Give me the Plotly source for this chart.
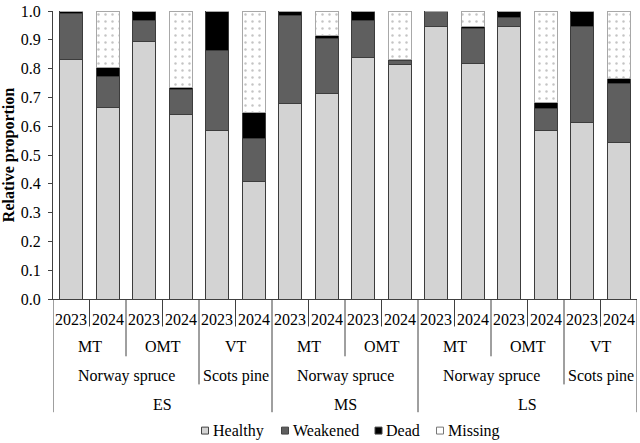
import plotly.graph_objects as go

# ---- data ----
stage = ["ES"] * 6 + ["MS"] * 4 + ["LS"] * 6
species = (["Norway spruce"] * 4 + ["Scots pine"] * 2 +
           ["Norway spruce"] * 4 +
           ["Norway spruce"] * 4 + ["Scots pine"] * 2)
forest = ["MT", "MT", "OMT", "OMT", "VT", "VT",
          "MT", "MT", "OMT", "OMT",
          "MT", "MT", "OMT", "OMT", "VT", "VT"]
year = ["2023", "2024"] * 8

healthy = [0.833, 0.666, 0.895, 0.639, 0.586, 0.407,
           0.680, 0.712, 0.839, 0.813,
           0.947, 0.819, 0.947, 0.586, 0.612, 0.543]
weakened = [0.157, 0.108, 0.072, 0.088, 0.276, 0.149,
            0.304, 0.193, 0.127, 0.014,
            0.053, 0.121, 0.031, 0.077, 0.334, 0.205]
dead = [0.010, 0.031, 0.033, 0.009, 0.138, 0.092,
        0.016, 0.010, 0.034, 0.004,
        0.000, 0.007, 0.022, 0.018, 0.054, 0.018]
missing = [0.000, 0.195, 0.000, 0.264, 0.000, 0.352,
           0.000, 0.085, 0.000, 0.169,
           0.000, 0.053, 0.000, 0.319, 0.000, 0.234]

series_names = ["Healthy", "Weakened", "Dead", "Missing"]
yticks = [round(i * 0.1, 1) for i in range(11)]

# ---- styling ----
FONT = '"Liberation Serif", "Times New Roman", Times, serif'
W, H = 640, 443
ML, MR, MT_, MB = 53, 3, 9, 144
plot_h = H - MT_ - MB
plot_w = W - ML - MR


def py(pix):
    """pixel y (from top) -> paper y"""
    return (H - MB - pix) / plot_h


def px(pix):
    """pixel x (from left) -> paper x"""
    return (pix - ML) / plot_w


x = list(range(len(year)))
fig = go.Figure()

fills = ["#d3d3d3", "#5f5f5f", "#000000", "#ffffff"]
edges = ["#3c3c3c", "#3c3c3c", "#3c3c3c", "#a8a8a8"]
for name, vals, fc, ec in zip(series_names, [healthy, weakened, dead, missing], fills, edges):
    marker = dict(color=fc, line=dict(color=ec, width=1))
    if name == "Missing":
        marker["pattern"] = dict(shape=".", fgcolor="#8a8a8a", bgcolor="#ffffff",
                                 size=7, solidity=0.1)
    fig.add_trace(go.Bar(x=x, y=vals, name=name, marker=marker, showlegend=False))

# ---- hierarchical category axis ----
levels = [year, forest, species, stage]
depth_pix = [326.7, 356.7, 385.0, 413.0]
label_pix = [319.3, 347.3, 376.7, 405.0]
line_col = "#404040"

shapes = []
annotations = []
n = len(x)
for b in range(-1, n):
    if b == -1 or b == n - 1:
        lvl = 3
    else:
        lvl = 0
        for L in range(3, -1, -1):
            if any(levels[k][b] != levels[k][b + 1] for k in range(L, 4)):
                lvl = L
                break
    shapes.append(dict(type="line", xref="x", yref="paper",
                       x0=b + 0.5, x1=b + 0.5, y0=0, y1=py(depth_pix[lvl]),
                       line=dict(color=line_col, width=1)))

for L in range(4):
    start = 0
    for i in range(1, n + 1):
        if i == n or any(levels[k][i] != levels[k][start] for k in range(L, 4)):
            annotations.append(dict(x=(start + i - 1) / 2, y=py(label_pix[L]),
                                    xref="x", yref="paper", text=levels[L][start],
                                    showarrow=False, xanchor="center", yanchor="middle",
                                    font=dict(family=FONT, size=16, color="#000")))
            start = i

# ---- legend (compact, like the reference) ----
leg_box_x = [201.5, 281.5, 375.0, 436.5]
leg_y = 431.5
box = 7
for name, fc, ec, bx in zip(series_names, fills, ["#444", "#444", "#444", "#777"], leg_box_x):
    shapes.append(dict(type="rect", xref="paper", yref="paper",
                       x0=px(bx), x1=px(bx + box), y0=py(leg_y + box / 2), y1=py(leg_y - box / 2),
                       fillcolor=fc, line=dict(color=ec, width=1)))
    annotations.append(dict(x=px(bx + box + 2), y=py(leg_y), xref="paper", yref="paper",
                            text=name, showarrow=False, xanchor="left", yanchor="middle",
                            font=dict(family=FONT, size=16, color="#000")))

fig.update_layout(
    width=W, height=H,
    margin=dict(l=ML, r=MR, t=MT_, b=MB),
    barmode="stack", bargap=0.37,
    plot_bgcolor="white", paper_bgcolor="white",
    font=dict(family=FONT, size=16, color="#000"),
    showlegend=False,
    shapes=shapes, annotations=annotations,
)
fig.update_xaxes(range=[-0.5, n - 0.5], showticklabels=False, showgrid=False,
                 zeroline=False, showline=True, linecolor=line_col, linewidth=1, ticks="")
fig.update_yaxes(range=[0, 1], tickvals=yticks, tickformat=".1f", showgrid=False,
                 zeroline=False, showline=True, linecolor=line_col, linewidth=1,
                 ticks="outside", ticklen=4, tickcolor=line_col,
                 ticklabelstandoff=4,
                 tickfont=dict(family=FONT, size=16),
                 title=dict(text="<b>Relative proportion</b>", standoff=3,
                            font=dict(family=FONT, size=16)))

fig.write_html("out.html")
